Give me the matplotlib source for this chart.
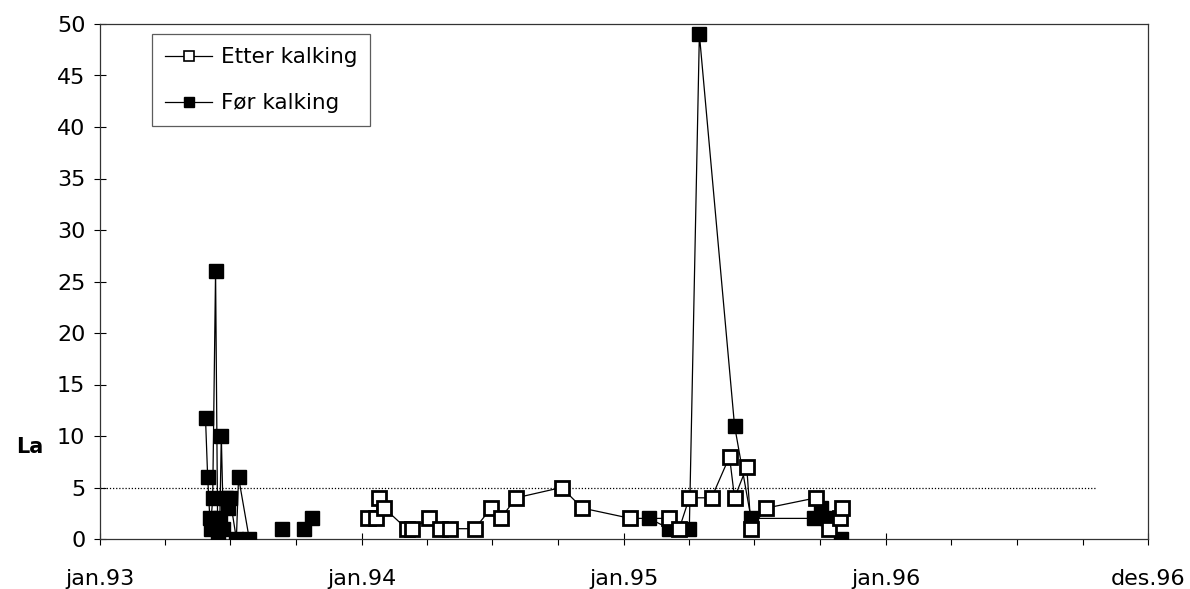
import matplotlib
matplotlib.use("Agg")
import matplotlib.pyplot as plt
import matplotlib.dates as mdates
import numpy as np
import datetime as dt

plt.rcParams['font.family'] = ['DejaVu Sans']

# ---- data ----
etter_dates = ["1994-01-10", "1994-01-20", "1994-01-24", "1994-02-01", "1994-03-04",
               "1994-03-12", "1994-04-04", "1994-04-19", "1994-05-03", "1994-06-07",
               "1994-06-30", "1994-07-13", "1994-08-04", "1994-10-06", "1994-11-04",
               "1995-01-10", "1995-03-05", "1995-03-19", "1995-04-02", "1995-05-03",
               "1995-05-28", "1995-06-04", "1995-06-21", "1995-06-27", "1995-07-18",
               "1995-09-26", "1995-10-14", "1995-10-29", "1995-11-01"]
etter_values = [2, 2, 4, 3, 1,
                1, 2, 1, 1, 1,
                3, 2, 4, 5, 3,
                2, 2, 1, 4, 4,
                8, 4, 7, 1, 3,
                4, 1, 2, 3]

for_dates = ["1993-05-28", "1993-05-31", "1993-06-03", "1993-06-04", "1993-06-07",
             "1993-06-11", "1993-06-14", "1993-06-17", "1993-06-19", "1993-06-22",
             "1993-06-25", "1993-06-28", "1993-07-01", "1993-07-10", "1993-07-13",
             "1993-07-28", "1993-09-12", "1993-10-12", "1993-10-24",
             "1995-02-05", "1995-03-05", "1995-04-02", "1995-04-16", "1995-06-04",
             "1995-06-27", "1995-09-23", "1995-10-03", "1995-10-11", "1995-10-31"]
for_values = [11.7, 6, 2, 1, 4,
              26, 0, 2, 10, 1,
              4, 3, 4, 0, 6,
              0, 1, 1, 2,
              2, 1, 1, 49, 11,
              2, 2, 3, 2, 0]
# line segments (Excel gaps)
for_segment = [0] * 16 + [1] + [2, 2] + [3] * 10

limit_value = 5
limit_start = "1993-01-01"
limit_end = "1996-10-20"

x_start = "1993-01-01"
x_end = "1996-12-31"
xtick_dates = ["1993-01-01", "1994-01-01", "1995-01-01", "1996-01-01", "1996-12-31"]
xtick_labels = ["jan.93", "jan.94", "jan.95", "jan.96", "des.96"]
yticks = [0, 5, 10, 15, 20, 25, 30, 35, 40, 45, 50]

def d(s):
    return dt.datetime.strptime(s, "%Y-%m-%d")

ed = [d(s) for s in etter_dates]
fd = [d(s) for s in for_dates]

fig = plt.figure(figsize=(11.9, 5.89), dpi=100)
ax = fig.add_axes([100 / 1190, 50 / 589, 1048 / 1190, 515 / 589])

# threshold line
ax.plot([d(limit_start), d(limit_end)], [limit_value, limit_value],
        color='black', lw=0.9, ls=(0, (1, 1.5)), zorder=1)

ms = 10
# Før kalking
fd_arr = np.array(fd, dtype=object)
fv_arr = np.array(for_values, dtype=float)
seg = np.array(for_segment)
for s in np.unique(seg):
    m = seg == s
    ax.plot(list(fd_arr[m]), fv_arr[m], color='black', lw=0.9, zorder=2)
ax.plot(fd, for_values, ls='none', marker='s', ms=ms, mfc='black', mec='black',
        mew=1.0, zorder=3)

# Etter kalking
ax.plot(ed, etter_values, color='black', lw=0.9, marker='s', ms=ms, mfc='white',
        mec='black', mew=2.0, zorder=4)

# legend proxies
h1, = ax.plot([], [], color='black', lw=0.9, marker='s', ms=7, mfc='white', mec='black', mew=1.2)
h2, = ax.plot([], [], color='black', lw=0.9, marker='s', ms=7.5, mfc='black', mec='black')
leg = ax.legend([h1, h2], ["Etter kalking", "Før kalking"], loc='upper left',
                bbox_to_anchor=(0.0496, 0.98), fontsize=15.5, frameon=True,
                fancybox=False, edgecolor='#333333', handlelength=2.2,
                handletextpad=0.4, labelspacing=1.2, borderpad=0.6, borderaxespad=0)
leg.get_frame().set_linewidth(0.9)

ax.set_xlim(d(x_start), d(x_end))
ax.set_ylim(0, 50)
ax.set_yticks(yticks)
ax.set_yticklabels([str(v) for v in yticks], fontsize=16)
ax.set_xticks([mdates.date2num(d(s)) for s in xtick_dates])
ax.set_xticklabels(xtick_labels, fontsize=16)
ax.xaxis.set_minor_locator(mdates.MonthLocator(bymonth=[4, 7, 10]))

ax.tick_params(axis='y', which='major', direction='inout', length=9, width=0.8, pad=6)
ax.tick_params(axis='x', which='major', direction='inout', length=9, width=0.8, pad=17)
ax.tick_params(axis='x', which='minor', direction='out', length=4, width=0.8)

for sp in ax.spines.values():
    sp.set_linewidth(0.9)
    sp.set_color('#333333')

ax.set_ylabel("La", rotation=0, fontsize=15, fontweight='bold', ha='center', va='center')
ax.yaxis.set_label_coords(-0.067, 0.179)

fig.savefig("out.png", dpi=100)
